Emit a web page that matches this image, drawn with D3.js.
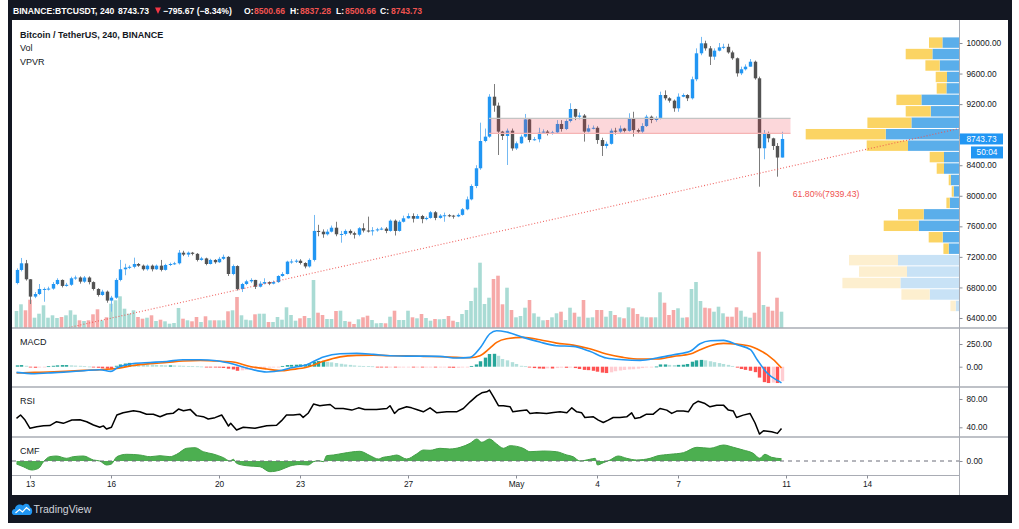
<!DOCTYPE html>
<html><head><meta charset="utf-8">
<script src="https://cdn.jsdelivr.net/npm/d3@7"></script>
<style>
html,body{margin:0;padding:0;background:#fff;}
svg{display:block;font-family:"Liberation Sans",Arial,sans-serif;}
</style></head><body>
<svg id="c" width="1019" height="529"></svg>
<script>
// ---------------- DATA ----------------
const firstOpen = 6858;
const closes = [7029,7116,6907,6680,6714,6780,6780,6785,6845,6898,
 6820,6835,6920,6930,6876,6930,6870,6780,6701,6745,
 6628,6666,6898,7038,7060,7070,7107,7085,7038,7085,
 7038,7085,7030,7094,7107,7116,7255,7230,7255,7240,
 7160,7180,7107,7160,7130,7175,7200,6976,7080,6780,
 6845,6880,6898,6810,6850,6870,6850,6870,6950,6976,
 7138,7140,7150,7120,7075,7160,7540,7530,7496,7530,
 7582,7496,7500,7540,7510,7490,7575,7545,7540,7548,
 7560,7570,7540,7674,7540,7660,7705,7735,7700,7735,
 7695,7710,7784,7710,7740,7745,7740,7730,7750,7823,
 7953,8128,8360,8717,8774,9297,9180,8840,8783,8852,
 8620,8687,8774,9000,8730,8740,8826,8840,8810,8830,
 8940,8874,8979,9136,9035,9050,8840,8883,8890,8730,
 8652,8680,8852,8840,8880,8850,9014,8860,8840,8913,
 9035,8992,9014,9319,9276,9245,9145,9297,9319,9276,
 9525,9865,9996,9930,9821,9900,9943,9950,9877,9800,
 9603,9656,9690,9755,9538,8622,8809,8752,8652,8500.66,
 8743.73];
const highs = [7050,7186,7160,6910,6740,6845,6800,6810,6870,6920,
 6905,6860,6940,6955,6945,6950,6945,6880,6790,6770,
 6760,6690,6920,7160,7110,7090,7190,7120,7100,7100,
 7100,7100,7160,7110,7125,7135,7290,7280,7270,7265,
 7250,7200,7190,7175,7170,7200,7230,7210,7100,7090,
 6860,6900,6920,6900,6880,6920,6880,6890,6960,7000,
 7150,7170,7170,7170,7130,7180,7749,7620,7560,7560,
 7610,7660,7540,7560,7560,7530,7590,7640,7727,7590,
 7580,7590,7590,7690,7690,7680,7740,7770,7770,7760,
 7750,7730,7800,7800,7760,7780,7760,7750,7770,7840,
 7990,8150,8400,8957,8880,9330,9463,9220,8850,8880,
 8880,8710,8800,9071,9010,8770,8890,8870,8860,8850,
 8990,8990,9000,9211,9140,9090,9070,8930,8920,8910,
 8760,8710,8880,8890,8920,8890,9080,9100,8880,8950,
 9060,9050,9040,9363,9380,9290,9260,9340,9340,9330,
 9560,9930,10080,10030,9960,9930,10000,9990,9990,9900,
 9810,9690,9720,9790,9770,9560,8860,8840,8760,8690,
 8837.28];
const lows = [6840,7010,6890,6583,6660,6700,6613,6760,6770,6830,
 6800,6810,6820,6900,6850,6860,6840,6760,6680,6690,
 6600,6483,6650,6880,6960,7040,7050,7070,7020,7020,
 7010,7030,7010,7020,7080,7095,7100,7210,7200,7220,
 7140,7150,7090,7100,7110,7120,7160,6950,6960,6760,
 6740,6830,6860,6780,6800,6840,6830,6840,6860,6940,
 6970,7110,7120,7100,7050,7060,7140,7470,7450,7480,
 7520,7470,7386,7480,7490,7440,7470,7520,7520,7480,
 7530,7550,7510,7530,7480,7530,7650,7700,7650,7700,
 7640,7680,7700,7680,7700,7660,7720,7700,7720,7740,
 7810,7940,8100,8340,8700,8760,9100,8534,8730,8403,
 8590,8600,8680,8760,8700,8720,8700,8810,8790,8800,
 8810,8840,8860,8960,8990,9000,8709,8830,8870,8680,
 8521,8620,8670,8800,8820,8830,8840,8774,8810,8820,
 8900,8950,8970,9000,9250,9220,9100,9100,9290,9240,
 9260,9500,9840,9900,9712,9780,9890,9920,9860,9780,
 9560,9580,9640,9690,9520,8119,8478,8700,8600,8250,
 8500.66];
const volumes = [17,23.7,17.7,28.3,10.3,14.3,22.7,10.3,12.7,10,
 11,12.7,17.7,13.3,7.7,7,7.7,13.7,18.7,7.7,
 10.7,24.3,27.7,31.7,19.3,14.3,17.7,11,9.3,10.3,
 12.7,7,8.3,6.7,4.3,5,20,9.3,7.7,6.7,
 11,6,11.7,7.7,7.7,7.7,7.7,16.7,17.7,31,
 12.7,8.3,7.7,13.7,14.3,14.3,6,6,11,8.3,
 20.7,13,7.3,9.7,12,10,48,15.3,13,9,
 9,17,17.3,7,6.3,4,8.7,10.7,12.3,8,
 4.7,5,4.7,11.3,17.3,8,8,17.3,10.7,9.7,
 14,10,7.3,9,8.7,9,12,7.3,6,14,
 18,27,40.3,65.3,24,30.3,49,52.3,23.7,40.3,
 18,10.7,12,20.3,28,14.7,11.3,7.7,8,10.7,
 14.7,16.3,8,20.3,15.3,11.3,28,10.3,10.7,18,
 18,11.3,17,13,10.7,9.7,20.7,19.7,14,11.3,
 10.7,10.7,10.7,35.7,25.3,13,18,19.7,10.3,10.7,
 39,46,27,20.3,19.7,16.3,21.3,14.7,11.3,11.3,
 20.7,17.3,11.3,10.3,15.3,76.3,23,21.3,17.3,30.3,
 16.3];

// Volume profile (visible range), rows from lowest price to highest
const vpvrUp   = [3.3,29.3,58.6,52,61,10.3,16.3,40.3,35.3,9.3,5.3,8.3,15,15,51,73.3,47.6,28.3,37.6,12.6,12,19.3,26.6,16.6];
const vpvrDown = [5.3,28.3,58,48,49,5.3,14,35,25.7,3.3,2,2,7.3,14.3,41.3,80,44,25,25,9.7,11.3,14.3,26.7,13.4];
const vpvrValueAreaLow = 7232;

// MACD histogram per candle
const macdHist = [15,18,10,-8,-12,-8,-4,5,10,15,
 18,18,15,12,10,5,2,-3,-12,-18,
 -22,-28,10,25,35,42,40,35,30,25,
 22,20,18,15,15,14,12,10,8,5,
 4,2,-3,-5,-8,-10,-14,-22,-30,-45,
 -40,-35,-28,-22,-18,-14,-10,-7,-3,8,
 18,20,22,25,25,28,55,62,65,55,
 48,40,32,25,20,14,10,8,6,4,
 -2,-4,-6,-4,-8,-6,-4,-3,-6,-5,
 -8,-8,-5,-8,-8,-8,-10,-12,-12,-8,
 -3,8,25,60,100,140,142,120,85,70,
 50,30,10,5,-8,-15,-20,-22,-18,-20,
 -15,-10,-12,-8,-15,-25,-35,-38,-45,-55,
 -65,-70,-62,-50,-42,-36,-30,-28,-22,-15,
 -8,-4,2,25,25,20,18,20,22,30,
 55,70,75,70,60,50,40,30,20,8,
 -10,-25,-35,-45,-60,-120,-170,-180,-175,-180,
 -160];
// MACD / signal lines sampled at candle positions
const macdAt = [0,4,7,11,15,18.5,21,22.3,26,29.7,33.4,37,40.8,44.5,48.1,51.9,55.6,59,60.8,64.5,
 68.2,71.9,75.6,79.3,83,86.7,90.4,94.1,97.8,100.8,103,105.2,106.7,108.9,112.6,116.3,120,123.7,127.4,131.1,
 134.8,138.6,142.3,146,149.7,151.9,154.2,157.1,160.1,163.1,164.6,166.8,169.8,170];
const macdLine = [-63,-77,-69,-59,-44,-33,-52,-15,36,47,58,77,77,66,30,-25,-58,-40,-15,22,
 108,143,147,136,121,117,117,114,95,103,205,363,396,382,323,271,231,224,169,95,
 77,70,95,132,169,253,286,290,242,187,77,-70,-172,-178];
const signalLine = [-69,-63,-59,-51,-40,-33,-26,-19,14,33,47,62,69,62,51,3,-25,-45,-33,-7,
 59,108,125,128,121,121,114,110,103,99,121,205,268,308,323,297,260,238,198,139,
 103,84,84,114,139,187,231,257,249,224,194,132,-3,-15];
// RSI sampled
const rsiAt = [0,0.9,1.9,3,4.5,6,7.4,8.9,10.4,12.3,14.1,15.6,17.1,18.5,19.3,20,21.1,22.3,23.7,26,
 27.4,28.9,30.4,31.9,33.4,34.8,36,37.1,38.6,40,41.5,42.6,44.1,45.6,46.3,47.1,47.6,48.9,50.4,53,
 55.6,57.8,58.9,60,61.5,63,63.7,64.8,66,67.4,68.2,69.7,70.8,72.6,74.5,76,77.4,80,82.3,83,
 84,84.9,86.7,87.8,88.9,90.4,91.9,93.4,95.6,97.8,99.3,100.8,102.3,103.4,104.5,105.1,106,107.1,108.2,109.7,
 110.3,111.9,113.4,114.1,115.6,117.8,119.3,120.8,122.3,123.4,124.5,125.6,126.3,128.2,129.3,130.4,131.5,132.6,134.1,135.6,
 136.7,137.4,138.6,140,141.5,143,144.5,145.6,146.7,148.2,149.3,150.4,151.5,153,154.1,155.6,157.1,158.2,159.3,160,
 161.5,163,164.1,165.1,166,167.8,169.1,170];
const rsiVal = [52.7,57.4,50.3,38.6,40.9,42.3,42.5,47.9,45.6,50.3,50.8,47.9,43.2,40,42,37.6,40,57.4,60.6,63.4,
 62,58.4,58.4,55,58.8,59.8,65.8,63.4,65.3,56.5,55,51.7,53.6,57.4,50.3,41.8,45.6,36.2,40,38.6,
 42.3,42.8,49.4,57.4,57.4,58.4,54,59.8,72.9,70.5,71.3,72.2,66.6,66.6,64.3,67.5,65.2,65.2,66.6,70.5,
 59.6,65.2,69,67.5,65.2,61.9,67.5,60.5,61.9,61.9,66.6,76,84.5,88.7,90.1,92.5,83.1,70.5,70.5,69,
 61.9,63.3,64.3,59.6,60.5,59.6,61,61.9,60.5,67.5,61.9,60.5,53.9,54.8,50.1,46.8,50.1,53.9,53.9,54.8,
 60.5,52.5,53.9,58.6,58.6,66.6,64.3,59.6,62.9,62.9,61.9,72.7,76.9,73.6,69,71.3,71.3,64.3,62.9,53.9,
 57.2,59.6,46.4,30.4,35.1,33.7,31.4,38.4];
// CMF sampled
const cmfAt = [0,1.5,3.4,4.9,6,7.4,8.9,11.1,12.6,14.9,17.1,18.5,20,21.1,22.3,24.5,27.4,29.7,31.9,34.1,
 35.6,37.8,39.7,41.5,43.7,46,47.4,48.2,48.9,51.1,54.1,56.3,58.6,60.8,63,64.8,66,67.1,68.2,68.9,
 70.4,72.6,76.3,78.6,80.4,81.5,83,84.5,86.7,88.9,90.4,91.9,94.1,96.3,98.6,100.8,102.3,103.4,105.1,106.7,
 108.2,109.7,112.6,114.1,117.1,120,122.3,123.7,125.2,127.4,128.6,129.1,130.4,131.9,133.7,135.6,137.8,140.8,142.3,145.2,
 148.2,151.2,154.1,157.1,159.3,161.5,163.7,165.2,166.3,167.8,170];
const cmfVal = [-0.03,-0.057,-0.09,-0.073,-0.007,0.043,0.05,0.027,0.043,0.05,0.01,0,-0.04,-0.03,0.043,0.067,0.06,0.043,0.053,0.043,
 0.067,0.127,0.133,0.093,0.07,0.033,0,0.017,-0.023,-0.047,-0.057,-0.107,-0.09,-0.05,-0.035,-0.04,-0.007,0.003,-0.007,0.053,
 0.06,0.077,0.097,0.053,0.02,0.037,0.047,0.06,0.02,0.07,0.11,0.107,0.127,0.12,0.137,0.177,0.22,0.187,0.22,0.17,
 0.127,0.153,0.127,0.093,0.1,0.093,0.06,0.043,0,0.017,0.027,-0.04,-0.017,0.01,0.05,0.027,0.01,0.027,0.05,0.067,
 0.083,0.137,0.127,0.16,0.137,0.11,0.077,0.027,0.067,0.037,0.023];

const priceTicks = [6400,6800,7200,7600,8000,8400,8800,9200,9600,10000];
const macdTicks = [0,250];
const rsiTicks = [40,80];
const cmfTicks = [0];
const xTickDates = ["2020-04-13","2020-04-16","2020-04-20","2020-04-23","2020-04-27","2020-05-01","2020-05-04","2020-05-07","2020-05-11","2020-05-14"];
const xTickLabels = ["13","16","20","23","27","May","4","7","11","14"];

const zone = {start:"2020-04-30T00:00Z", end:"2020-05-11T04:00Z", top:9014, bottom:8818};
const trendA = {t:"2020-04-14T00:00Z", p:6240};
const trendB = {t:"2020-05-10T20:00Z", p:8360};
const fibLevel = {t:"2020-05-11T06:00Z", p:7939.43, label:"61.80%(7939.43)"};
const countdown = "50:04";
const changeText = "\u2212795.67 (\u22128.34%)";

// ---------------- DRAWING ----------------
const svg = d3.select("#c");
const L = 12, R = 959;
const pane = {p:[20,328], m:[328,387], r:[387,437], c:[437,475], x:[475,495]};
const FONT = '"Liberation Sans",Arial,sans-serif';
const TXT = "#131722";

const t0 = Date.UTC(2020,3,12,12), step = 4*3600*1000;
const tOf = i => new Date(t0 + i*step);
const x = d3.scaleTime().domain([tOf(0), tOf(170)]).range([16.5, 781.5]);
const yP = d3.scaleLinear().domain([6400,10000]).range([318,43]);
const yV = d3.scaleLinear().domain([0, d3.max(volumes)]).range([328, 251.7]);
const yM = d3.scaleLinear().domain([0,250]).range([366.7,344]);
const yR = d3.scaleLinear().domain([40,80]).range([427.3,399]);
const yC = d3.scaleLinear().domain([0,0.2]).range([461,441]);

const candles = closes.map((c,i)=>({i, t:tOf(i), o: i? closes[i-1] : firstOpen, h:highs[i], l:lows[i], c, v:volumes[i]}));
const lastY = yP(closes[closes.length-1]);

// background & frame
svg.append("rect").attr("width",1019).attr("height",529).attr("fill","#fff");
svg.append("rect").attr("x",8).attr("y",0).attr("width",1004).attr("height",523).attr("fill","#131722");
svg.append("rect").attr("x",L).attr("y",20).attr("width",1008-L).attr("height",475).attr("fill","#fff");

const defs = svg.append("defs");
function clip(id, y0, y1){ defs.append("clipPath").attr("id",id).append("rect").attr("x",L).attr("y",y0).attr("width",R-L).attr("height",y1-y0); }
clip("cp",pane.p[0],pane.p[1]); clip("cm",pane.m[0],pane.m[1]); clip("cr",pane.r[0],pane.r[1]); clip("cc",pane.c[0],pane.c[1]);

// ---- price pane
const gP = svg.append("g").attr("clip-path","url(#cp)");
const volUp = "#a9dbd4", volDn = "#f6a9a8";
gP.append("g").selectAll("rect").data(candles).join("rect")
  .attr("x", d=>x(d.t)-1.8).attr("width",3.6)
  .attr("y", d=>yV(d.v)).attr("height", d=>yV(0)-yV(d.v))
  .attr("fill", d=> d.c>=d.o ? volUp : volDn);

// VPVR
const vLo = d3.min(lows), vHi = d3.max(highs), nRows = vpvrUp.length, rowH = (vHi - vLo)/nRows;
const rows = vpvrUp.map((u,k)=>({k, up:u, dn:vpvrDown[k], p0: vLo + k*rowH, p1: vLo + (k+1)*rowH}));
const wx = d3.scaleLinear().domain([0, d3.max(rows, r=>r.up + r.dn)]).range([0,153.3]);
const gV = gP.append("g");
rows.forEach(r=>{
  const faded = r.p1 <= vpvrValueAreaLow + 1;
  const yt = yP(r.p1)+0.5, hh = yP(r.p0)-yP(r.p1)-1;
  gV.append("rect").attr("x", R - wx(r.up)).attr("y", yt).attr("width", wx(r.up)).attr("height", hh)
    .attr("fill", faded ? "#c8e2f6" : "#5aaeea");
  gV.append("rect").attr("x", R - wx(r.up + r.dn)).attr("y", yt).attr("width", wx(r.dn)).attr("height", hh)
    .attr("fill", faded ? "#fdefcf" : "#fbd464");
});

// candles
const upC = "#2196f3", dnC = "#535353";
const gC = gP.append("g");
gC.selectAll("line").data(candles).join("line")
  .attr("x1", d=>Math.round(x(d.t))+0.5).attr("x2", d=>Math.round(x(d.t))+0.5)
  .attr("y1", d=>yP(d.h)).attr("y2", d=>yP(d.l))
  .attr("stroke", d=> d.c>=d.o ? "#74b9f2" : "#7c7c7c").attr("stroke-width",1);
gC.selectAll("rect").data(candles).join("rect")
  .attr("x", d=>Math.round(x(d.t))+0.5-1.7).attr("width",3.4)
  .attr("y", d=>yP(Math.max(d.o,d.c))).attr("height", d=>Math.max(1, Math.abs(yP(d.o)-yP(d.c))))
  .attr("fill", d=> d.c>=d.o ? upC : dnC);

// zone rectangle
const zx0 = x(new Date(zone.start)), zx1 = x(new Date(zone.end));
gP.append("rect").attr("x",zx0).attr("y",yP(zone.top)).attr("width",zx1-zx0).attr("height",yP(zone.bottom)-yP(zone.top))
  .attr("fill","rgba(242,54,69,0.2)");
gP.append("line").attr("x1",zx0).attr("x2",zx1).attr("y1",yP(zone.top)).attr("y2",yP(zone.top)).attr("stroke","#c4c4c4").attr("stroke-width",1.2);
gP.append("line").attr("x1",zx0).attr("x2",zx1).attr("y1",yP(zone.bottom)).attr("y2",yP(zone.bottom)).attr("stroke","#f5b4b4").attr("stroke-width",1.2);

// trend line (ray)
const ax = x(new Date(trendA.t)), ay = yP(trendA.p), bx = x(new Date(trendB.t)), by = yP(trendB.p);
const slope = (by-ay)/(bx-ax);
gP.append("line").attr("x1",ax).attr("y1",ay).attr("x2",R).attr("y2",by + slope*(R-bx))
  .attr("stroke","#ef5350").attr("stroke-width",1.1).attr("stroke-dasharray","1,2").attr("opacity",0.9);

// fib label
svg.append("text").attr("x", x(new Date(fibLevel.t))).attr("y", yP(fibLevel.p)-3).text(fibLevel.label)
  .attr("font-size",8.7).attr("fill","#f05350").attr("font-family",FONT);

// ---- MACD pane
const gM = svg.append("g").attr("clip-path","url(#cm)");
gM.selectAll("rect").data(macdHist).join("rect")
  .attr("x",(d,i)=>Math.round(x(tOf(i)))+0.5-1.7).attr("width",3.4)
  .attr("y", d=>Math.min(yM(d), yM(0))).attr("height", d=>Math.max(0.8, Math.abs(yM(d)-yM(0))))
  .attr("fill",(d,i)=>{ const p = i? macdHist[i-1] : d;
     return d>=0 ? (d>=p ? "#26a69a" : "#b2dfdb") : (d<p ? "#ff5252" : "#ffcdd2"); });
const lineM = (vals) => d3.line().x((d,k)=>x(tOf(macdAt[k]))).y(d=>yM(d)).curve(d3.curveMonotoneX)(vals);
gM.append("path").attr("d", lineM(signalLine)).attr("fill","none").attr("stroke","#ff6d00").attr("stroke-width",1.6);
gM.append("path").attr("d", lineM(macdLine)).attr("fill","none").attr("stroke","#2196f3").attr("stroke-width",1.6);

// ---- RSI pane
const gR = svg.append("g").attr("clip-path","url(#cr)");
gR.append("path").attr("d", d3.line().x((d,k)=>x(tOf(rsiAt[k]))).y(d=>yR(d))(rsiVal))
  .attr("fill","none").attr("stroke","#000").attr("stroke-width",1.5).attr("stroke-linejoin","round");

// ---- CMF pane
const gCm = svg.append("g").attr("clip-path","url(#cc)");
gCm.append("path").attr("d", d3.area().x((d,k)=>x(tOf(cmfAt[k]))).y0(yC(0)).y1(d=>yC(d)).curve(d3.curveMonotoneX)(cmfVal))
  .attr("fill","#4caf50");
gCm.append("path").attr("d", d3.line().x((d,k)=>x(tOf(cmfAt[k]))).y(d=>yC(d)).curve(d3.curveMonotoneX)(cmfVal))
  .attr("fill","none").attr("stroke","#43a047").attr("stroke-width",1);
svg.append("line").attr("x1",L).attr("x2",R).attr("y1",yC(0)).attr("y2",yC(0))
  .attr("stroke","#6a6d78").attr("stroke-width",1).attr("stroke-dasharray","4,4");

// ---- separators and axes lines
const sep = "#a9acb4";
[pane.m[0], pane.r[0], pane.c[0]].forEach(y=>{
  svg.append("line").attr("x1",L).attr("x2",1008).attr("y1",y).attr("y2",y).attr("stroke",sep).attr("stroke-width",1.4);
});
svg.append("line").attr("x1",L).attr("x2",R).attr("y1",pane.x[0]+0.5).attr("y2",pane.x[0]+0.5).attr("stroke",sep).attr("stroke-width",1);
svg.append("line").attr("x1",R+0.5).attr("x2",R+0.5).attr("y1",20).attr("y2",495).attr("stroke",sep).attr("stroke-width",1);

function rightAxis(scale, ticks, hideNearY){
  const g = svg.append("g").attr("transform",`translate(${R+0.5},0)`)
    .call(d3.axisRight(scale).tickValues(ticks).tickFormat(d3.format(".2f")).tickSize(3).tickPadding(4));
  g.select(".domain").remove();
  g.selectAll("line").attr("stroke","#8a8d96");
  g.selectAll("text").attr("font-size",8.3).attr("font-family",FONT).attr("fill",TXT);
  // like the original, a tick label that falls under the last-price badge is hidden by it
  if (hideNearY != null) g.selectAll(".tick").filter(d=>Math.abs(scale(d)-hideNearY) < 9).select("text").remove();
}
rightAxis(yP, priceTicks, lastY); rightAxis(yM, macdTicks); rightAxis(yR, rsiTicks); rightAxis(yC, cmfTicks);

const gX = svg.append("g").attr("transform",`translate(0,${pane.x[0]+0.5})`)
  .call(d3.axisBottom(x).tickValues(xTickDates.map(s=>new Date(s+"T00:00Z"))).tickFormat((d,i)=>xTickLabels[i]).tickSize(3).tickPadding(3));
gX.select(".domain").remove();
gX.selectAll("line").attr("stroke","#8a8d96");
gX.selectAll("text").attr("font-size",8.3).attr("font-family",FONT).attr("fill",TXT);

// last price & countdown labels
svg.append("rect").attr("x",R+1).attr("y",lastY-5.5).attr("width",43).attr("height",11).attr("fill","#2196f3");
svg.append("text").attr("x",R+1+21.5).attr("y",lastY).attr("dy","0.35em").attr("text-anchor","middle")
  .attr("font-size",8.3).attr("fill","#fff").attr("font-family",FONT).text(d3.format(".2f")(closes[closes.length-1]));
svg.append("rect").attr("x",R+12).attr("y",lastY+7.5).attr("width",32).attr("height",12).attr("fill","#2196f3");
svg.append("text").attr("x",R+12+16).attr("y",lastY+13.5).attr("dy","0.35em").attr("text-anchor","middle")
  .attr("font-size",8.3).attr("fill","#fff").attr("font-family",FONT).text(countdown);

// ---- legends
function txt(s, xx, yy, size, fill, weight){
  return svg.append("text").attr("x",xx).attr("y",yy).text(s).attr("font-size",size).attr("fill",fill)
    .attr("font-family",FONT).attr("font-weight",weight||"normal");
}
txt("Bitcoin / TetherUS, 240, BINANCE", 20, 38, 9, TXT, "bold");
txt("Vol", 20, 51, 9, TXT);
txt("VPVR", 20, 64.5, 9, TXT);
txt("MACD", 20, 345, 9, TXT);
txt("RSI", 20, 403.5, 9, TXT);
txt("CMF", 20, 453.5, 9, TXT);

// header
const red = "#f05350", last = candles[candles.length-1];
const f2 = d3.format(".2f");
const hdr = [
  ["BINANCE:BTCUSDT, 240", 13, "#fff"], [f2(last.c), 118, "#fff"], [changeText, 163, "#fff"],
  ["O:", 244, "#fff"], [f2(last.o), 254, red], ["H:", 290, "#fff"], [f2(last.h), 300, red],
  ["L:", 336, "#fff"], [f2(last.l), 345, red], ["C:", 380, "#fff"], [f2(last.c), 391, red]
];
hdr.forEach(h=> txt(h[0], h[1], 14, 8.6, h[2], "bold"));
svg.append("path").attr("d","M155,7.5 L161,7.5 L158,14 Z").attr("fill","#f23645");

// TradingView logo
const gl = svg.append("g");
gl.append("path").attr("d","M14,515 C11,515 11,509 15,509 C15,505 20,503 23,505.5 C25,502.5 30,503.5 30,507.5 C33,508 33,515 29.5,515 Z").attr("fill","#2196f3");
gl.append("path").attr("d","M15.5,513 L19.5,509.5 L22.5,512 L26.5,507.5 L30,510.5").attr("fill","none").attr("stroke","#fff").attr("stroke-width",1.2);
txt("TradingView", 33.5, 513, 10.5, "#d1d4dc");
</script>
</body></html>
